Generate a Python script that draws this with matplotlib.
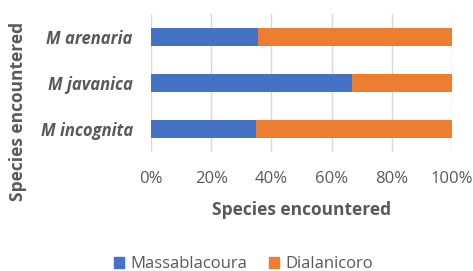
import matplotlib.pyplot as plt
from matplotlib.patches import Patch

species = ["M incognita", "M javanica", "M arenaria"]
massablacoura = [34.9, 66.7, 35.6]
dialanicoro = [65.1, 33.3, 64.4]
xticks = [0, 20, 40, 60, 80, 100]

blue = "#4472c4"
orange = "#ed7d31"
gray = "#595959"

plt.rcParams["font.family"] = ["Open Sans", "DejaVu Sans"]

fig = plt.figure(figsize=(4.73, 2.71), dpi=100)
ax = fig.add_axes([0.319, 0.439, 0.637, 0.509])

ax.barh(species, massablacoura, height=0.38, color=blue, zorder=3)
ax.barh(species, dialanicoro, left=massablacoura, height=0.38, color=orange, zorder=3)

ax.set_xlim(0, 100)
ax.set_ylim(-0.5, 2.5)
ax.set_xticks(xticks)
ax.set_xticklabels([f"{v}%" for v in xticks], color=gray, fontsize=12)
ax.tick_params(axis="x", length=0, pad=14)
ax.tick_params(axis="y", length=0, pad=13)
for lbl in ax.get_yticklabels():
    lbl.set_fontstyle("italic")
    lbl.set_fontweight("bold")
    lbl.set_color(gray)
    lbl.set_fontsize(12)

ax.grid(axis="x", color="#d9d9d9", linewidth=1, zorder=0)
for s in ax.spines.values():
    s.set_visible(False)

ax.set_xlabel("Species encountered", fontsize=12.5, fontweight="bold", color=gray, labelpad=10)
fig.text(0.038, 0.59, "Species encountered", rotation=90, ha="center", va="center",
         fontsize=12.5, fontweight="bold", color=gray)

handles = [Patch(color=blue, label="Massablacoura"), Patch(color=orange, label="Dialanicoro")]
fig.legend(handles=handles, loc="center", bbox_to_anchor=(0.515, 0.025), ncol=2, frameon=False,
           fontsize=12, handlelength=0.6, handleheight=0.6, columnspacing=1.3, handletextpad=0.4,
           labelcolor=gray)

fig.savefig("out.png", dpi=100)
